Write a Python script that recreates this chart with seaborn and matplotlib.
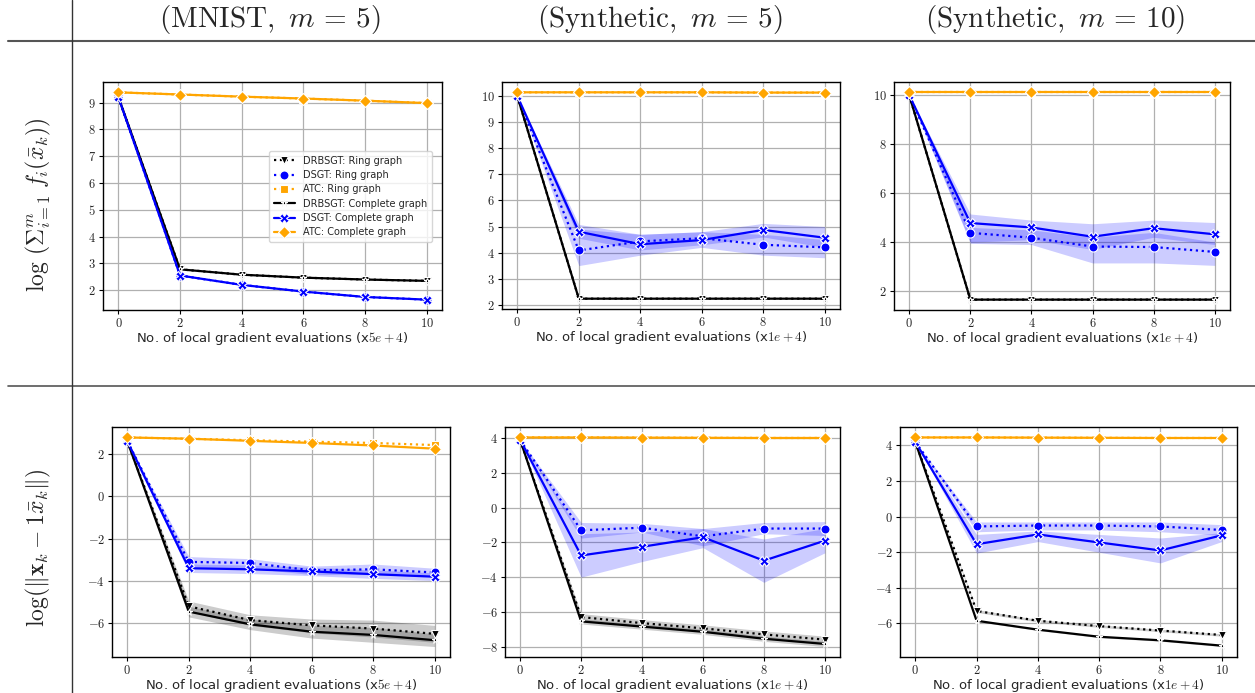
import matplotlib
matplotlib.use("Agg")
import matplotlib.pyplot as plt
from matplotlib.lines import Line2D
from matplotlib.ticker import FuncFormatter, MultipleLocator
import seaborn as sns
import numpy as np

sns.set_style("whitegrid")
plt.rcParams['font.family'] = ['DejaVu Sans']
plt.rcParams['mathtext.fontset'] = 'cm'

steps = [0, 2, 4, 6, 8, 10]
col_titles = [r"$(\mathrm{MNIST},\ m\,=\,5)$", r"$(\mathrm{Synthetic},\ m\,=\,5)$", r"$(\mathrm{Synthetic},\ m\,=\,10)$"]
row_titles = [r"$\log\,(\Sigma_{i=1}^{m}\;f_i(\bar{x}_k))$", r"$\log(\|\mathbf{x}_k-\mathbf{1}\bar{x}_k\|)$"]
xlabels = [r"No. of local gradient evaluations (x$5e+4$)",
           r"No. of local gradient evaluations (x$1e+4$)",
           r"No. of local gradient evaluations (x$1e+4$)"]
labels = ["DRBSGT: Ring graph", "DSGT: Ring graph", "ATC: Ring graph",
          "DRBSGT: Complete graph", "DSGT: Complete graph", "ATC: Complete graph"]
ytick_steps = [1, 1, 2, 2, 2, 2]

# ---- Panel 1: MNIST m=5, objective ----
p1_drb_ring = [9.2, 2.78, 2.58, 2.47, 2.40, 2.35]
p1_dsgt_ring = [9.2, 2.55, 2.20, 1.95, 1.75, 1.65]
p1_atc_ring = [9.38, 9.30, 9.22, 9.15, 9.07, 8.98]
p1_drb_comp = [9.2, 2.78, 2.58, 2.47, 2.40, 2.35]
p1_dsgt_comp = [9.2, 2.55, 2.20, 1.95, 1.75, 1.65]
p1_atc_comp = [9.38, 9.30, 9.22, 9.15, 9.07, 8.98]

# ---- Panel 2: Synthetic m=5, objective ----
p2_drb_ring = [10.0, 2.23, 2.23, 2.23, 2.23, 2.23]
p2_dsgt_ring = [10.0, 4.08, 4.43, 4.55, 4.30, 4.20]
p2_dsgt_ring_lo = [10.0, 3.50, 3.90, 4.20, 3.90, 3.80]
p2_dsgt_ring_hi = [10.0, 4.90, 4.70, 4.80, 4.70, 4.50]
p2_atc_ring = [10.15, 10.15, 10.15, 10.15, 10.14, 10.14]
p2_drb_comp = [10.0, 2.23, 2.23, 2.23, 2.23, 2.23]
p2_dsgt_comp = [10.0, 4.80, 4.32, 4.48, 4.87, 4.57]
p2_dsgt_comp_lo = [10.0, 4.55, 4.10, 4.30, 4.60, 4.20]
p2_dsgt_comp_hi = [10.0, 5.08, 4.70, 4.80, 5.12, 5.00]
p2_atc_comp = [10.15, 10.15, 10.15, 10.15, 10.14, 10.14]

# ---- Panel 3: Synthetic m=10, objective ----
p3_drb_ring = [10.0, 1.65, 1.65, 1.65, 1.65, 1.65]
p3_dsgt_ring = [10.0, 4.38, 4.18, 3.82, 3.80, 3.60]
p3_dsgt_ring_lo = [10.0, 3.95, 3.90, 3.15, 3.15, 3.05]
p3_dsgt_ring_hi = [10.0, 4.60, 4.50, 4.20, 4.40, 4.00]
p3_atc_ring = [10.12, 10.12, 10.12, 10.12, 10.12, 10.12]
p3_drb_comp = [10.0, 1.65, 1.65, 1.65, 1.65, 1.65]
p3_dsgt_comp = [10.0, 4.78, 4.60, 4.22, 4.57, 4.32]
p3_dsgt_comp_lo = [10.0, 4.00, 4.10, 3.70, 4.20, 3.90]
p3_dsgt_comp_hi = [10.0, 5.15, 4.90, 4.75, 4.90, 4.80]
p3_atc_comp = [10.12, 10.12, 10.12, 10.12, 10.12, 10.12]

# ---- Panel 4: MNIST m=5, consensus ----
p4_drb_ring = [2.6, -5.20, -5.85, -6.10, -6.25, -6.50]
p4_drb_ring_lo = [2.6, -5.45, -6.10, -6.45, -6.65, -6.90]
p4_drb_ring_hi = [2.6, -4.95, -5.60, -5.80, -5.85, -6.10]
p4_dsgt_ring = [2.6, -3.10, -3.15, -3.50, -3.45, -3.60]
p4_dsgt_ring_lo = [2.6, -3.35, -3.40, -3.70, -3.70, -3.80]
p4_dsgt_ring_hi = [2.6, -2.85, -2.95, -3.30, -3.20, -3.40]
p4_atc_ring = [2.78, 2.72, 2.65, 2.58, 2.52, 2.42]
p4_drb_comp = [2.6, -5.45, -6.05, -6.40, -6.55, -6.80]
p4_drb_comp_lo = [2.6, -5.70, -6.30, -6.70, -6.90, -7.10]
p4_drb_comp_hi = [2.6, -5.20, -5.80, -6.10, -6.20, -6.50]
p4_dsgt_comp = [2.6, -3.40, -3.45, -3.55, -3.68, -3.80]
p4_dsgt_comp_lo = [2.6, -3.60, -3.65, -3.75, -3.88, -3.98]
p4_dsgt_comp_hi = [2.6, -3.20, -3.25, -3.35, -3.48, -3.62]
p4_atc_comp = [2.78, 2.72, 2.62, 2.52, 2.40, 2.25]

# ---- Panel 5: Synthetic m=5, consensus ----
p5_drb_ring = [3.9, -6.30, -6.65, -6.95, -7.30, -7.60]
p5_drb_ring_lo = [3.9, -6.50, -6.85, -7.15, -7.50, -7.80]
p5_drb_ring_hi = [3.9, -6.10, -6.45, -6.75, -7.10, -7.40]
p5_dsgt_ring = [3.9, -1.30, -1.15, -1.65, -1.20, -1.20]
p5_dsgt_ring_lo = [3.9, -1.75, -1.40, -2.20, -1.50, -1.60]
p5_dsgt_ring_hi = [3.9, -0.85, -0.90, -1.20, -0.85, -0.80]
p5_atc_ring = [4.05, 4.05, 4.04, 4.03, 4.02, 4.02]
p5_drb_comp = [3.9, -6.55, -6.85, -7.15, -7.55, -7.85]
p5_drb_comp_lo = [3.9, -6.70, -7.00, -7.30, -7.70, -8.00]
p5_drb_comp_hi = [3.9, -6.40, -6.70, -7.00, -7.40, -7.70]
p5_dsgt_comp = [3.9, -2.75, -2.25, -1.70, -3.05, -1.90]
p5_dsgt_comp_lo = [3.9, -4.00, -3.10, -2.30, -4.30, -2.60]
p5_dsgt_comp_hi = [3.9, -1.50, -1.40, -1.20, -1.80, -1.20]
p5_atc_comp = [4.05, 4.05, 4.04, 4.03, 4.02, 4.02]

# ---- Panel 6: Synthetic m=10, consensus ----
p6_drb_ring = [4.2, -5.30, -5.85, -6.15, -6.40, -6.65]
p6_drb_ring_lo = [4.2, -5.38, -5.92, -6.22, -6.47, -6.72]
p6_drb_ring_hi = [4.2, -5.22, -5.78, -6.08, -6.33, -6.58]
p6_dsgt_ring = [4.2, -0.55, -0.50, -0.50, -0.55, -0.75]
p6_dsgt_ring_lo = [4.2, -0.85, -0.75, -0.75, -0.85, -1.05]
p6_dsgt_ring_hi = [4.2, -0.30, -0.30, -0.30, -0.30, -0.45]
p6_atc_ring = [4.45, 4.45, 4.44, 4.43, 4.42, 4.42]
p6_drb_comp = [4.2, -5.85, -6.35, -6.75, -6.95, -7.25]
p6_drb_comp_lo = [4.2, -5.90, -6.40, -6.80, -7.00, -7.30]
p6_drb_comp_hi = [4.2, -5.80, -6.30, -6.70, -6.90, -7.20]
p6_dsgt_comp = [4.2, -1.55, -1.00, -1.45, -1.90, -1.05]
p6_dsgt_comp_lo = [4.2, -2.05, -1.40, -2.00, -2.60, -1.40]
p6_dsgt_comp_hi = [4.2, -1.00, -0.80, -1.00, -1.20, -0.90]
p6_atc_comp = [4.45, 4.45, 4.44, 4.43, 4.42, 4.42]

# series styles: (color, linestyle, marker, markersize)
styles = [("black", ":", "v", 6), ("blue", ":", "o", 6.5), ("orange", ":", "s", 5.5),
          ("black", "-", "*", 5), ("blue", "-", "X", 6.5), ("orange", "-", "D", 6.5)]

panels = [
    [(p1_drb_ring, None), (p1_dsgt_ring, None), (p1_atc_ring, None),
     (p1_drb_comp, None), (p1_dsgt_comp, None), (p1_atc_comp, None)],
    [(p2_drb_ring, None), (p2_dsgt_ring, (p2_dsgt_ring_lo, p2_dsgt_ring_hi)), (p2_atc_ring, None),
     (p2_drb_comp, None), (p2_dsgt_comp, (p2_dsgt_comp_lo, p2_dsgt_comp_hi)), (p2_atc_comp, None)],
    [(p3_drb_ring, None), (p3_dsgt_ring, (p3_dsgt_ring_lo, p3_dsgt_ring_hi)), (p3_atc_ring, None),
     (p3_drb_comp, None), (p3_dsgt_comp, (p3_dsgt_comp_lo, p3_dsgt_comp_hi)), (p3_atc_comp, None)],
    [(p4_drb_ring, (p4_drb_ring_lo, p4_drb_ring_hi)), (p4_dsgt_ring, (p4_dsgt_ring_lo, p4_dsgt_ring_hi)), (p4_atc_ring, None),
     (p4_drb_comp, (p4_drb_comp_lo, p4_drb_comp_hi)), (p4_dsgt_comp, (p4_dsgt_comp_lo, p4_dsgt_comp_hi)), (p4_atc_comp, None)],
    [(p5_drb_ring, (p5_drb_ring_lo, p5_drb_ring_hi)), (p5_dsgt_ring, (p5_dsgt_ring_lo, p5_dsgt_ring_hi)), (p5_atc_ring, None),
     (p5_drb_comp, (p5_drb_comp_lo, p5_drb_comp_hi)), (p5_dsgt_comp, (p5_dsgt_comp_lo, p5_dsgt_comp_hi)), (p5_atc_comp, None)],
    [(p6_drb_ring, (p6_drb_ring_lo, p6_drb_ring_hi)), (p6_dsgt_ring, (p6_dsgt_ring_lo, p6_dsgt_ring_hi)), (p6_atc_ring, None),
     (p6_drb_comp, (p6_drb_comp_lo, p6_drb_comp_hi)), (p6_dsgt_comp, (p6_dsgt_comp_lo, p6_dsgt_comp_hi)), (p6_atc_comp, None)],
]

W, H = 1255, 693
fig = plt.figure(figsize=(W / 100, H / 100), dpi=100)

def rect(l, t, r, b):
    return [l / W, 1 - b / H, (r - l) / W, (b - t) / H]

boxes = [(103, 82, 442, 310), (502, 82, 840, 309), (894, 82, 1230, 310),
         (112, 427, 450, 657), (505, 427, 840, 657), (900, 427, 1237, 657)]

fmt = FuncFormatter(lambda v, p: f"${v:g}$")

for i, (box, series) in enumerate(zip(boxes, panels)):
    ax = fig.add_axes(rect(*box))
    for (vals, bnd), (c, ls, mk, ms), lab in zip(series, styles, labels):
        if bnd is not None:
            ax.fill_between(steps, bnd[0], bnd[1], color=c, alpha=0.2, linewidth=0)
        sns.lineplot(x=steps, y=vals, ax=ax, color=c, linestyle=ls, marker=mk,
                     markersize=ms, markeredgecolor="white", markeredgewidth=0.8,
                     linewidth=1.6, label=lab, errorbar=None)
    ax.set_xticks(steps)
    ax.yaxis.set_major_locator(MultipleLocator(ytick_steps[i]))
    ax.xaxis.set_major_formatter(fmt)
    ax.yaxis.set_major_formatter(fmt)
    ax.tick_params(axis="both", labelsize=9, length=3, width=0.8, color="black", pad=2)
    ax.tick_params(axis="both", which="major", bottom=True, left=True)
    ax.grid(True, color="#b0b0b0", linewidth=0.9)
    for s in ax.spines.values():
        s.set_color("black")
        s.set_linewidth(1.0)
    ax.set_xlabel(xlabels[i % 3], fontsize=9.5, labelpad=0)
    ax.set_ylabel("")
    if i == 0:
        ax.legend(loc="upper right", bbox_to_anchor=(0.985, 0.72), fontsize=7,
                  frameon=True, framealpha=0.8, handlelength=2.2, borderpad=0.5,
                  labelspacing=0.45)
    else:
        lg = ax.get_legend()
        if lg is not None:
            lg.remove()

# table-like separators
fig.add_artist(Line2D([8 / W, 1.0], [1 - 41 / H, 1 - 41 / H], color="#555555", linewidth=1.5))
fig.add_artist(Line2D([8 / W, 1.0], [1 - 386 / H, 1 - 386 / H], color="#555555", linewidth=1.2))
fig.add_artist(Line2D([72 / W, 72 / W], [0, 1], color="#333333", linewidth=1.0))

for x, t in zip([270, 660, 1055], col_titles):
    fig.text(x / W, 1 - 20 / H, t, ha="center", va="center", fontsize=21)
for y, t in zip([205, 548], row_titles):
    fig.text(38 / W, 1 - y / H, t, ha="center", va="center", rotation=90, fontsize=17)

fig.savefig("out.png", dpi=100)
